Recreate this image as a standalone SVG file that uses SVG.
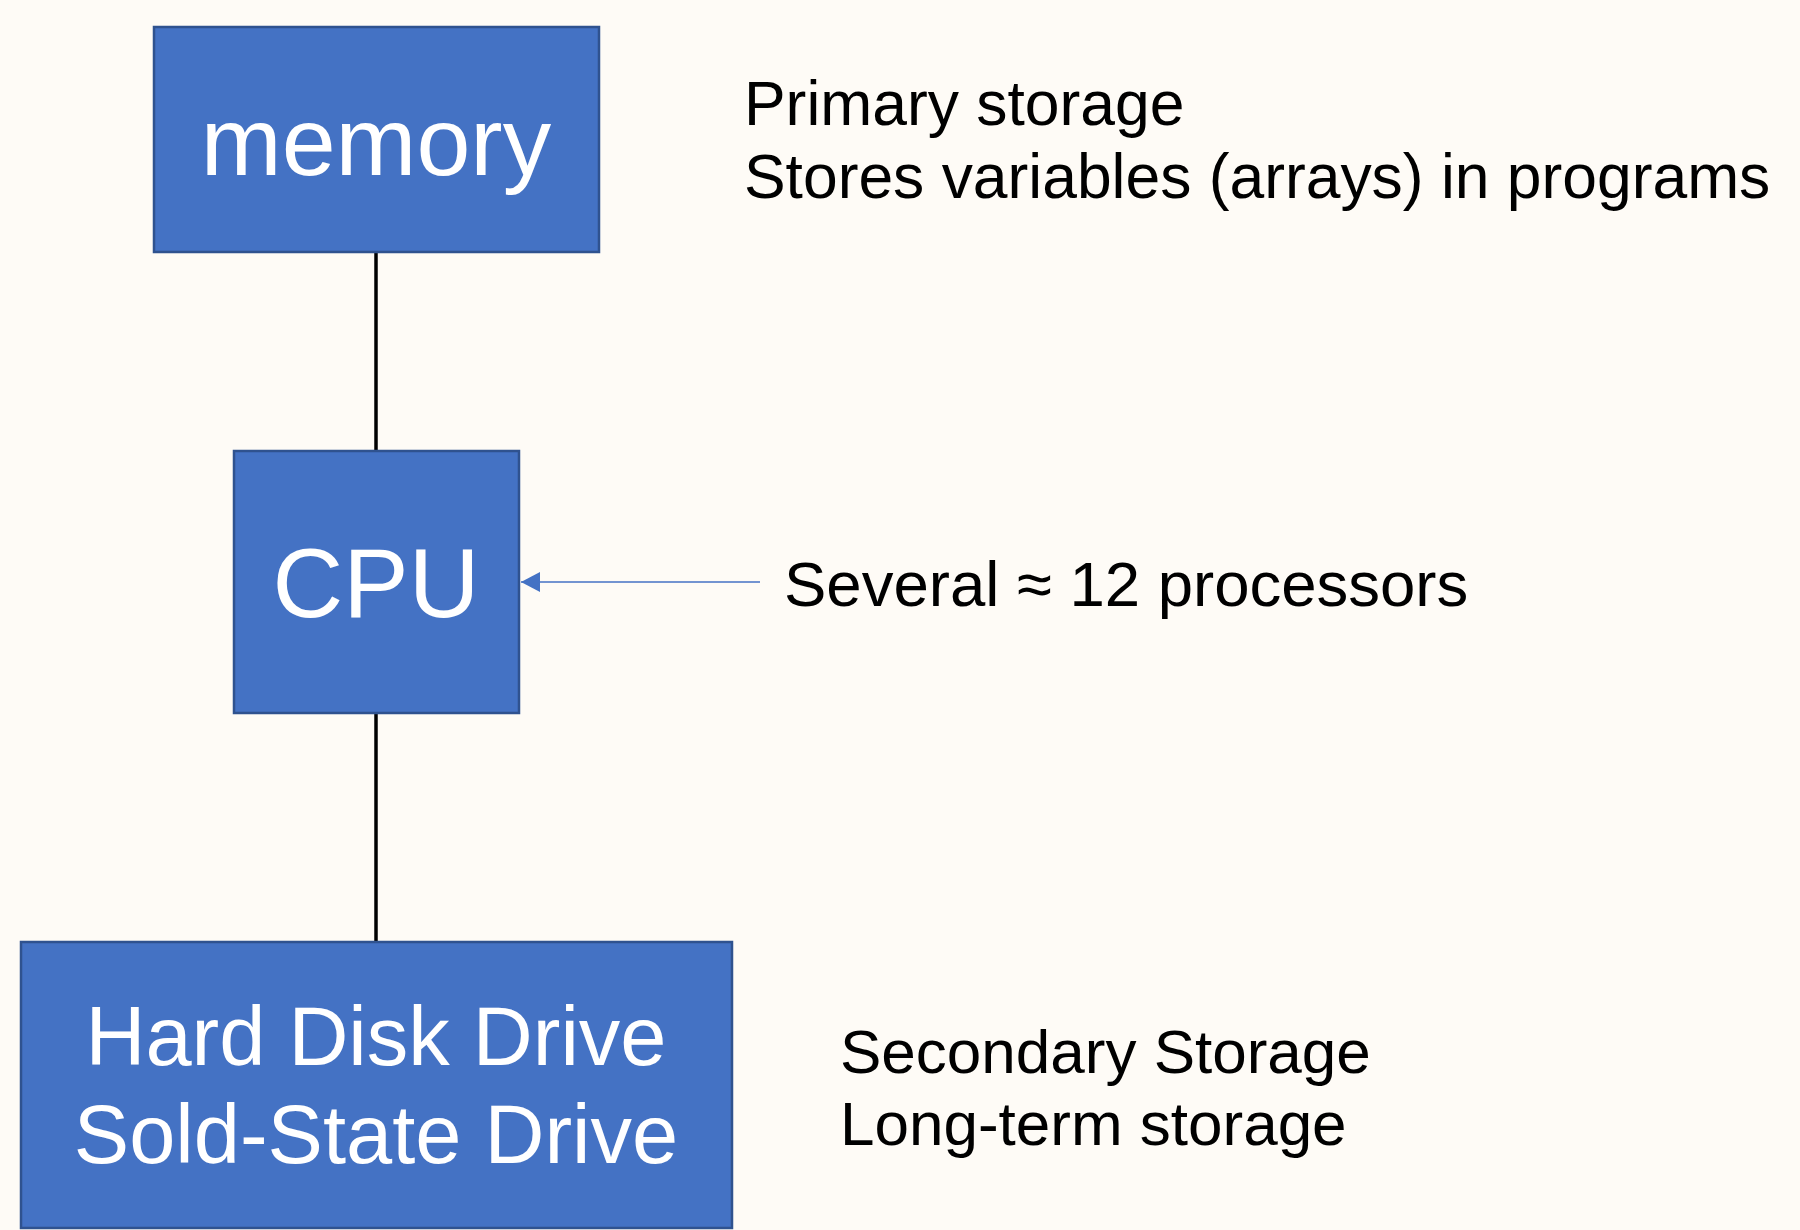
<svg xmlns="http://www.w3.org/2000/svg" width="1800" height="1230" viewBox="0 0 1800 1230">
<defs>
<style>
.box{fill:#4472C4;stroke:#2F528F;stroke-width:2.5}
.lbl{font-family:"Liberation Sans",Arial,sans-serif;fill:#FFFFFF;text-anchor:middle}
.note{font-family:"Liberation Sans",Arial,sans-serif;fill:#000000}
.link{stroke:#000000;stroke-width:3.5;fill:none}
.ptr{stroke:#4472C4;stroke-width:1.6;fill:none}
</style>
<marker id="ah" markerUnits="userSpaceOnUse" markerWidth="20" markerHeight="22" refX="19" refY="10" orient="auto" viewBox="0 0 20 20">
<path d="M0,0 L19,10 L0,20 Z" fill="#4472C4"/>
</marker>
</defs>
<rect width="1800" height="1230" fill="#FEFBF6"/>
<g id="connectors">
<line class="link" x1="376" y1="252" x2="376" y2="451"/>
<line class="link" x1="376" y1="713" x2="376" y2="942"/>
<line class="ptr" x1="760" y1="582" x2="521" y2="582" marker-end="url(#ah)"/>
</g>
<g id="memory">
<rect class="box" x="154" y="27" width="445" height="225"/>
<text class="lbl" x="376" y="175" font-size="97">memory</text>
</g>
<g id="cpu">
<rect class="box" x="234" y="451" width="285" height="262"/>
<text class="lbl" x="376" y="617" font-size="98">CPU</text>
</g>
<g id="storage">
<rect class="box" x="21" y="942" width="711" height="286"/>
<text class="lbl" x="376" y="1065" font-size="83">Hard Disk Drive</text>
<text class="lbl" x="376" y="1163" font-size="83">Sold-State Drive</text>
</g>
<g id="notes">
<text class="note" x="744" y="125" font-size="62.4">Primary storage</text>
<text class="note" x="744" y="198" font-size="62.4">Stores variables (arrays) in programs</text>
<text class="note" x="784" y="606" font-size="63.5">Several ≈ 12 processors</text>
<text class="note" x="840" y="1073" font-size="62">Secondary Storage</text>
<text class="note" x="840" y="1145" font-size="62">Long-term storage</text>
</g>
</svg>
